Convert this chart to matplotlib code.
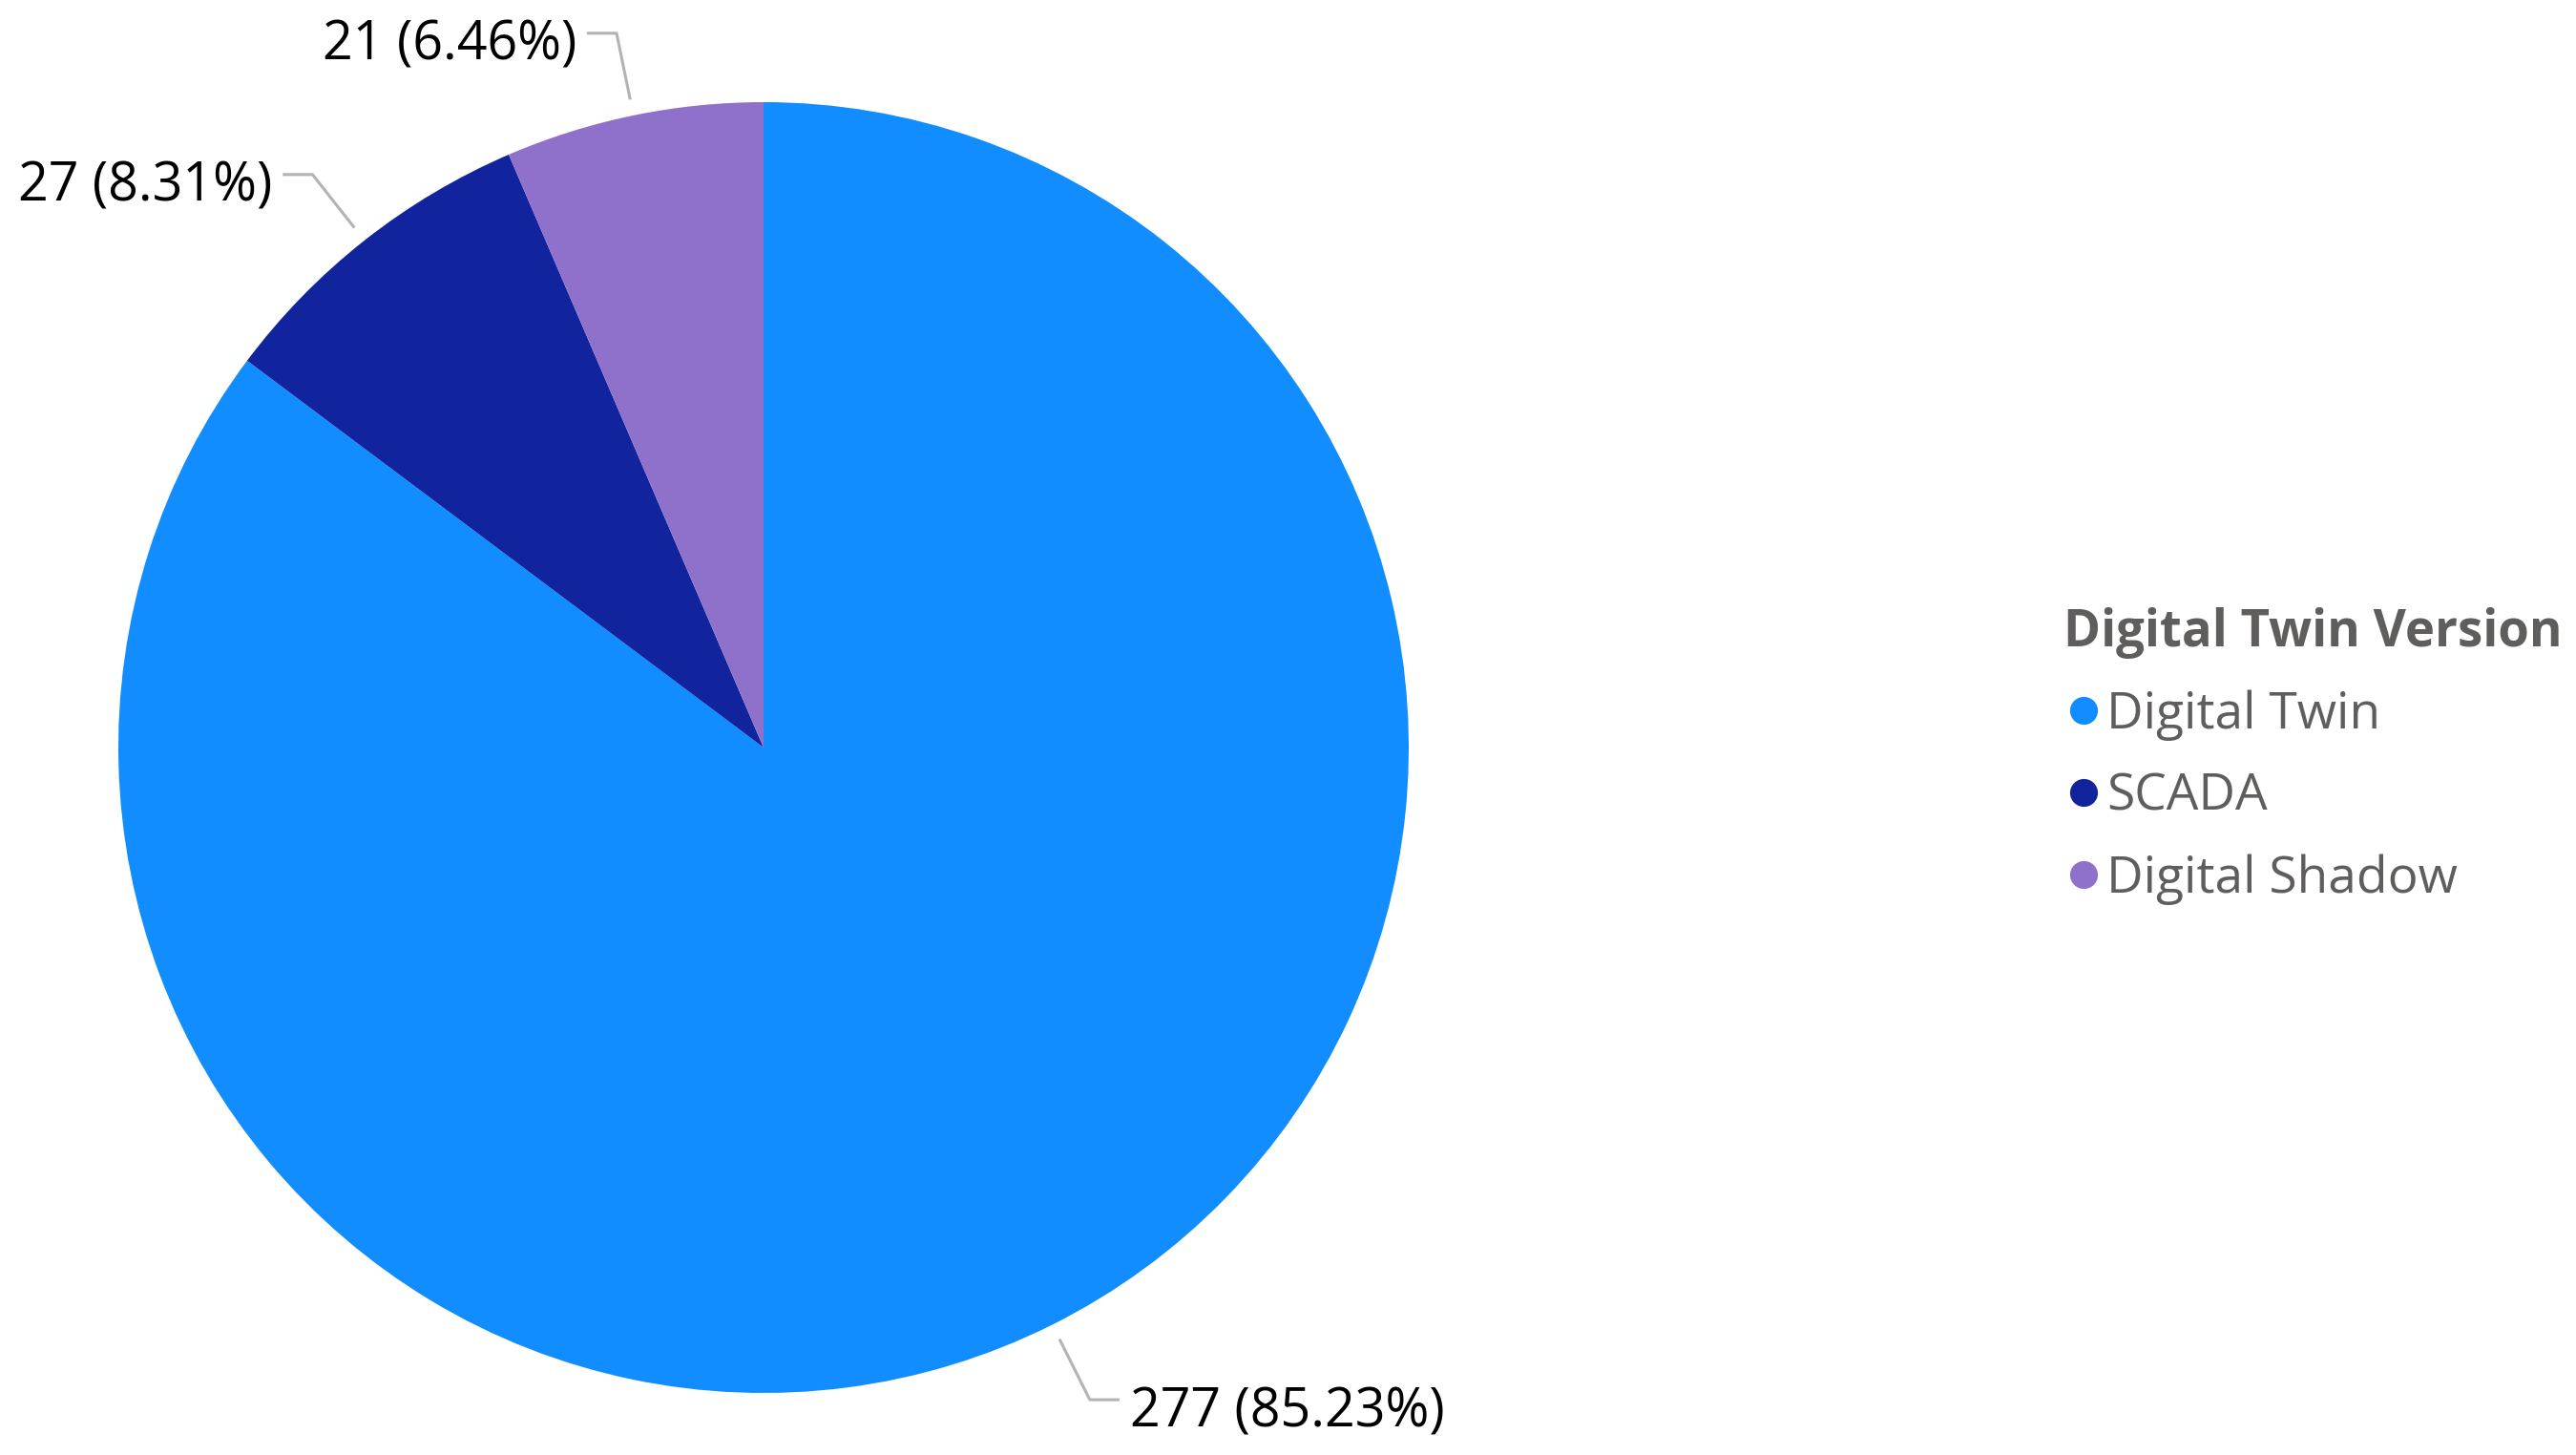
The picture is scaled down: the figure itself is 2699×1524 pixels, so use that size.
import numpy as np
import matplotlib.pyplot as plt
from matplotlib.lines import Line2D

# data
categories = ['Digital Twin', 'SCADA', 'Digital Shadow']
counts = [277, 27, 21]
colors = ['#118DFF', '#12239E', '#8F71CC']

plt.rcParams['font.family'] = ['Open Sans', 'DejaVu Sans']

W, H = 2699, 1524
fig = plt.figure(figsize=(W / 100, H / 100), dpi=100)
cx, cy, r = 800, 783, 676
ax = fig.add_axes([(cx - r) / W, (H - cy - r) / H, 2 * r / W, 2 * r / H])

wedges, _ = ax.pie(counts, colors=colors, startangle=90, counterclock=False,
                   radius=1.0, wedgeprops=dict(linewidth=0))
ax.set_xlim(-1, 1)
ax.set_ylim(-1, 1)
ax.set_aspect('equal')
ax.axis('off')

# data labels with leader lines
total = sum(counts)
for w, n in zip(wedges, counts):
    mid = np.radians((w.theta1 + w.theta2) / 2)
    s = 1 if np.cos(mid) >= 0 else -1
    x0, y0 = 1.025 * np.cos(mid), 1.025 * np.sin(mid)
    x1, y1 = 1.13 * np.cos(mid), 1.13 * np.sin(mid)
    x2 = x1 + s * 0.046
    ax.plot([x0, x1, x2], [y0, y1, y1], color='#B3B3B3', lw=2.2,
            clip_on=False, solid_capstyle='butt')
    txt = f'{n} ({n / total * 100:.2f}%)'
    ax.text(x2 + s * 0.016, y1 - 0.02, txt, fontsize=40, color='#000000',
            ha='left' if s > 0 else 'right', va='center', clip_on=False)

handles = [Line2D([0], [0], marker='o', linestyle='none', markersize=21,
                  markerfacecolor=c, markeredgewidth=0) for c in colors]
leg = fig.legend(handles, categories, loc='upper left',
                 bbox_to_anchor=(2162 / W, 1 - 636 / H), frameon=False,
                 fontsize=38.3, title='Digital Twin Version',
                 title_fontproperties={'size': 38, 'weight': 'bold'},
                 handletextpad=0.05, handlelength=0.8, labelspacing=0.61,
                 borderaxespad=0, borderpad=0)
leg._legend_box.align = 'left'
for t in leg.get_texts():
    t.set_color('#605E5C')
leg.get_title().set_color('#605E5C')

fig.savefig('out.png', dpi=100, facecolor='white')
